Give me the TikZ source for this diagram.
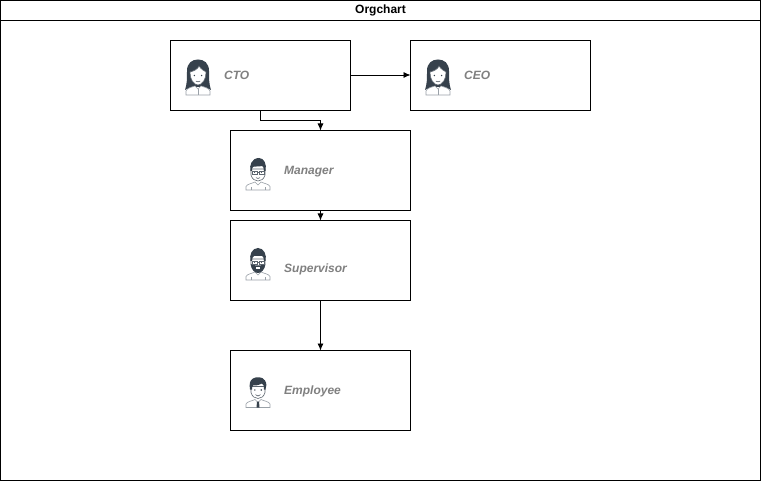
\documentclass[tikz,border=0pt]{standalone}
\usepackage{fontspec}
\setmainfont{Liberation Sans}
\usetikzlibrary{arrows.meta}
\definecolor{inkd}{HTML}{36414C}
\definecolor{inkl}{HTML}{9AA1A8}
\definecolor{labelc}{HTML}{808080}
\tikzset{
  x=1pt,y=-1pt,
  boxline/.style={draw=black,line width=0.8pt,inner sep=0pt,outer sep=0pt,anchor=north west},
  card/.style={boxline,fill=white,minimum width=180pt},
  lbl/.style={font=\bfseries\itshape\fontsize{12}{14}\selectfont,text=labelc,anchor=west,inner sep=0pt},
  link/.style={draw=black,line width=0.8pt,-{Latex[length=7pt,width=6pt]}},
  bodyl/.style={draw=inkl,line width=0.6pt,fill=white},
  facel/.style={draw=inkd!80,line width=0.6pt,fill=white},
  pics/woman/.style={code={
    \fill[inkd] (-3,10) .. controls (-7,11) and (-12,12) .. (-13,13) .. controls (-11,7) and (-11,2) .. (-11,-6) .. controls (-11,-14) and (-6,-17.5) .. (0,-17.5) .. controls (6,-17.5) and (11,-14) .. (11,-6) .. controls (11,2) and (11,7) .. (13,13) .. controls (12,12) and (7,11) .. (3,10) -- cycle;
    \draw[bodyl] (-12,18) -- (-12,14) .. controls (-11,11) and (-6,10) .. (-3,9) -- (0,12) -- (3,9) .. controls (6,10) and (11,11) .. (12,14) -- (12,18) -- cycle;
    \draw[bodyl] (0,12) -- (0,18);
    \draw[facel] (-8,-5) .. controls (-4,-6) and (0,-8) .. (1,-11) .. controls (3,-8) and (6,-6) .. (8,-5) .. controls (8.5,2) and (4,8) .. (0,8) .. controls (-4,8) and (-8.5,2) .. (-8,-5) -- cycle;
    \fill[inkd] (-3.6,-1.5) circle (0.8) (3.6,-1.5) circle (0.8);
    \draw[inkd,line width=0.5pt] (-2.2,4) .. controls (-1,5.2) and (1,5.2) .. (2.2,4);
  }},
  pics/man/.style={code={
    \draw[bodyl] (-12,16) -- (-12,12.5) .. controls (-11,10) and (-6,9.5) .. (-3,8) -- (0,11) -- (3,8) .. controls (6,9.5) and (11,10) .. (12,12.5) -- (12,16) -- cycle;
    \draw[bodyl] (-7,16) -- (-7,13) (7,16) -- (7,13);
    \draw[facel] (-7,-5) -- (-7,1) .. controls (-6,5) and (-3,7) .. (0,7) .. controls (3,7) and (6,5) .. (7,1) -- (7,-5) -- cycle;
    \fill[inkd] (-7.5,-3) .. controls (-9,-9) and (-6,-16) .. (1,-16) .. controls (6,-16) and (9,-10) .. (7.5,-3) -- (6,-3) .. controls (6,-6) and (5,-8) .. (4,-8) .. controls (0,-7) and (-4,-8) .. (-5,-7) .. controls (-6,-6) and (-6,-5) .. (-6,-3) -- cycle;
    \draw[inkd!80,line width=0.55pt] (-6,-3) rectangle (-1,0) (1,-3) rectangle (6,0) (-1,-2) -- (1,-2);
    \fill[inkd] (-3.4,-1.5) circle (0.55) (3.4,-1.5) circle (0.55);
    \draw[inkd,line width=0.5pt] (-2,3.7) .. controls (-1,4.7) and (1,4.7) .. (2,3.7);
  }},
  pics/bearded/.style={code={
    \draw[bodyl] (-12,16) -- (-12,12.5) .. controls (-11,10) and (-6,9.5) .. (-3,8) -- (0,11) -- (3,8) .. controls (6,9.5) and (11,10) .. (12,12.5) -- (12,16) -- cycle;
    \draw[bodyl] (-7,16) -- (-7,13) (7,16) -- (7,13);
    \draw[facel] (-7,-5) -- (-7,1) .. controls (-6,5) and (-3,7) .. (0,7) .. controls (3,7) and (6,5) .. (7,1) -- (7,-5) -- cycle;
    \fill[inkd] (-7.2,0) .. controls (-7,6) and (-3,9) .. (0,9) .. controls (3,9) and (7,6) .. (7.2,0) -- (5,1) .. controls (3,1.5) and (-3,1.5) .. (-5,1) -- cycle;
    \fill[white] (-1.8,3.3) rectangle (1.8,4.6);
    \fill[inkd] (-7.5,-3) .. controls (-9,-9) and (-6,-16) .. (0,-16) .. controls (6,-16) and (9,-9) .. (7.5,-3) -- (6,-3) .. controls (6,-6) and (5,-8) .. (4,-8) -- (-4,-8) .. controls (-5,-8) and (-6,-6) .. (-6,-3) -- cycle;
    \draw[inkd!80,line width=0.55pt,fill=white] (-6,-3) rectangle (-1,0) (1,-3) rectangle (6,0);
    \draw[inkd!80,line width=0.55pt] (-1,-2) -- (1,-2);
    \fill[inkd] (-3.4,-1.5) circle (0.55) (3.4,-1.5) circle (0.55);
  }},
  pics/worker/.style={code={
    \draw[bodyl] (-12,16) -- (-12,12.5) .. controls (-11,10) and (-6,9.5) .. (-3,8) -- (0,11) -- (3,8) .. controls (6,9.5) and (11,10) .. (12,12.5) -- (12,16) -- cycle;
    \fill[inkd] (-1,10) -- (1,10) -- (1.5,16) -- (-1.5,16) -- cycle;
    \draw[facel] (-7,-5) -- (-7,1) .. controls (-6,5) and (-3,7) .. (0,7) .. controls (3,7) and (6,5) .. (7,1) -- (7,-5) -- cycle;
    \fill[inkd] (-8,-2) .. controls (-9,-8) and (-8,-11) .. (-5,-13) .. controls (-2,-15) and (5,-15) .. (7,-11) .. controls (9,-8) and (8.5,-5) .. (7.5,-2) -- (6,-2) .. controls (6,-5) and (6,-7) .. (4,-8) .. controls (0,-6) and (-3,-6) .. (-5,-6) .. controls (-6,-5) and (-6,-3) .. (-6,-2) -- cycle;
    \fill[inkd] (-3.2,-1.5) circle (0.8) (3.2,-1.5) circle (0.8);
    \draw[inkd,line width=0.5pt] (-2.4,3.2) .. controls (-1,5) and (1,5) .. (2.4,3.2);
  }}
}
\begin{document}
\begin{tikzpicture}
\useasboundingbox (0,0) rectangle (761,481);
\node[boxline,minimum width=760pt,minimum height=460pt] (frame) at (0.5,20.5) {};
\node[boxline,minimum width=760pt,minimum height=20pt,font=\bfseries\fontsize{12}{14}\selectfont] (title) at (0.5,0.5) {Orgchart};
\node[card,minimum height=70pt] (cto) at (170.5,40.5) {};
\node[card,minimum height=70pt] (ceo) at (410.5,40.5) {};
\node[card,minimum height=80pt] (manager) at (230.5,130.5) {};
\node[card,minimum height=80pt] (supervisor) at (230.5,220.5) {};
\node[card,minimum height=80pt] (employee) at (230.5,350.5) {};
\pic at (198,77) {woman};
\pic at (438,77) {woman};
\pic at (258,174) {man};
\pic at (258,264) {bearded};
\pic at (258,391.5) {worker};
\node[lbl] (tcto) at (224,75) {CTO};
\node[lbl] (tceo) at (464,75) {CEO};
\node[lbl] (tmanager) at (284,171.5) {Manager};
\node[lbl] (tsupervisor) at (284,269) {Supervisor};
\node[lbl] (temployee) at (284,391) {Employee};
\draw[link] (cto.east |- 0,75) -- (ceo.west |- 0,75);
\draw[link] (cto.south) -- ++(0,10) -| (manager.north);
\draw[link] (manager.south) -- (supervisor.north);
\draw[link] (supervisor.south) -- (employee.north);
\end{tikzpicture}
\end{document}
